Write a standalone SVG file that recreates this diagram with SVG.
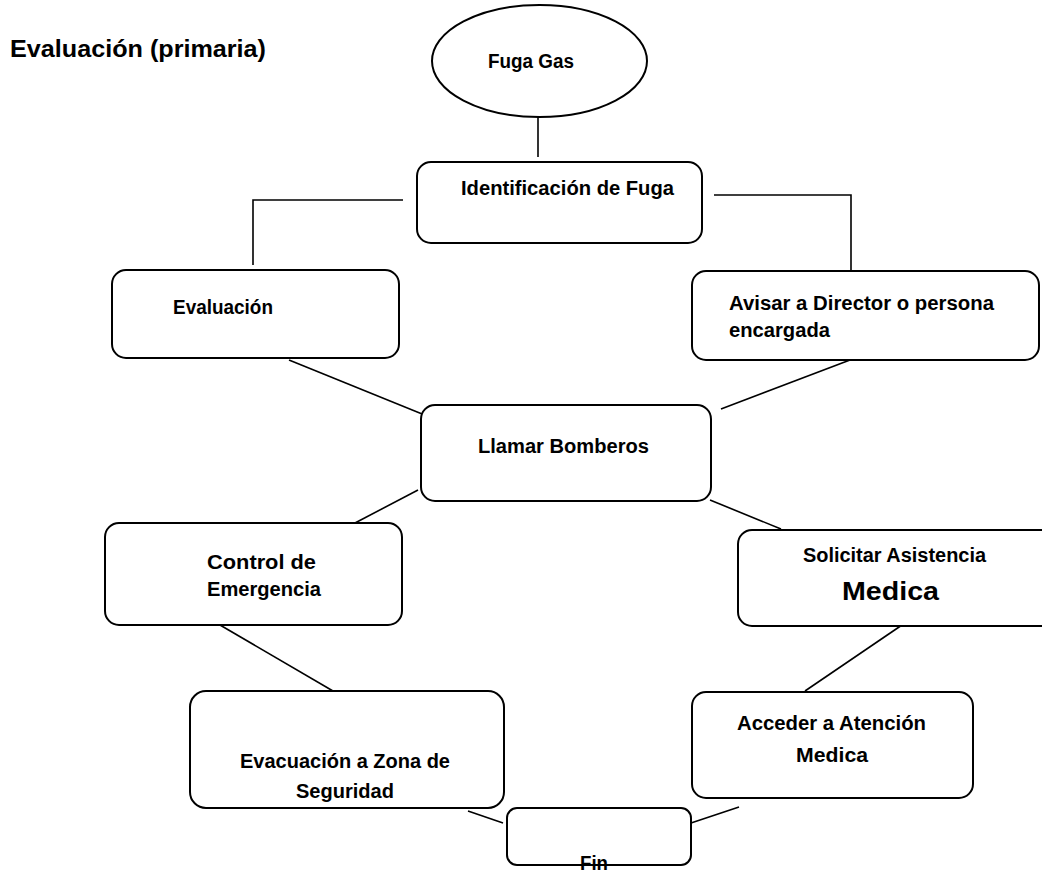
<svg xmlns="http://www.w3.org/2000/svg" width="1042" height="873" viewBox="0 0 1042 873">
<style>
.bg{fill:#fff}
.box{fill:#fff;stroke:#000;stroke-width:2}
.ln{fill:none;stroke:#000;stroke-width:1.6}
text{font-family:"Liberation Sans",Arial,sans-serif;font-weight:bold;fill:#000;font-size:19.5px}
.title{font-size:23px}
.big{font-size:25px}
</style>
<rect class="bg" x="0" y="0" width="1042" height="873"/>
<text class="title" x="10" y="57" textLength="256" lengthAdjust="spacingAndGlyphs">Evaluación (primaria)</text>
<g id="connectors">
<line class="ln" x1="538" y1="117" x2="538" y2="157"/>
<polyline class="ln" points="403,200 253,200 253,265"/>
<polyline class="ln" points="714,195 851,195 851,270"/>
<line class="ln" x1="289" y1="360" x2="432" y2="418"/>
<line class="ln" x1="850" y1="360" x2="721" y2="409"/>
<line class="ln" x1="418" y1="490" x2="355" y2="523"/>
<line class="ln" x1="710" y1="500" x2="781" y2="529"/>
<line class="ln" x1="220" y1="625" x2="333" y2="691"/>
<line class="ln" x1="902" y1="625" x2="805" y2="691"/>
<line class="ln" x1="468" y1="811" x2="503" y2="823"/>
<line class="ln" x1="691" y1="823" x2="739" y2="807"/>
</g>
<g id="fuga-gas">
<ellipse class="box" cx="539.5" cy="61" rx="107.5" ry="56"/>
<text x="488" y="68" textLength="86" lengthAdjust="spacingAndGlyphs">Fuga Gas</text>
</g>
<g id="identificacion">
<rect class="box" x="417" y="162" width="285" height="81" rx="14"/>
<text x="461" y="195" textLength="213" lengthAdjust="spacingAndGlyphs">Identificación de Fuga</text>
</g>
<g id="evaluacion">
<rect class="box" x="112" y="270" width="287" height="88" rx="14"/>
<text x="173" y="314" textLength="100" lengthAdjust="spacingAndGlyphs">Evaluación</text>
</g>
<g id="avisar">
<rect class="box" x="692" y="271" width="347" height="89" rx="14"/>
<text x="729" y="310" textLength="265" lengthAdjust="spacingAndGlyphs">Avisar a Director o persona</text>
<text x="729" y="337" textLength="101" lengthAdjust="spacingAndGlyphs">encargada</text>
</g>
<g id="llamar">
<rect class="box" x="421" y="405" width="290" height="96" rx="14"/>
<text x="478" y="453" textLength="171" lengthAdjust="spacingAndGlyphs">Llamar Bomberos</text>
</g>
<g id="control">
<rect class="box" x="105" y="523" width="297" height="102" rx="14"/>
<text x="207" y="569" textLength="109" lengthAdjust="spacingAndGlyphs">Control de</text>
<text x="207" y="596" textLength="114" lengthAdjust="spacingAndGlyphs">Emergencia</text>
</g>
<g id="solicitar">
<rect class="box" x="738" y="530" width="330" height="96" rx="14"/>
<text x="803" y="562" textLength="183" lengthAdjust="spacingAndGlyphs">Solicitar Asistencia</text>
<text class="big" x="842" y="600" textLength="97" lengthAdjust="spacingAndGlyphs">Medica</text>
</g>
<g id="evacuacion">
<rect class="box" x="190" y="691" width="314" height="117" rx="16"/>
<text x="240" y="768" textLength="210" lengthAdjust="spacingAndGlyphs">Evacuación a Zona de</text>
<text x="296" y="798" textLength="98" lengthAdjust="spacingAndGlyphs">Seguridad</text>
</g>
<g id="acceder">
<rect class="box" x="692" y="692" width="281" height="106" rx="14"/>
<text x="737" y="730" textLength="189" lengthAdjust="spacingAndGlyphs">Acceder a Atención</text>
<text x="796" y="762" textLength="72" lengthAdjust="spacingAndGlyphs">Medica</text>
</g>
<g id="fin">
<rect class="box" x="507" y="808" width="184" height="57" rx="10"/>
<text x="580" y="870" textLength="28" lengthAdjust="spacingAndGlyphs">Fin</text>
</g>
</svg>
